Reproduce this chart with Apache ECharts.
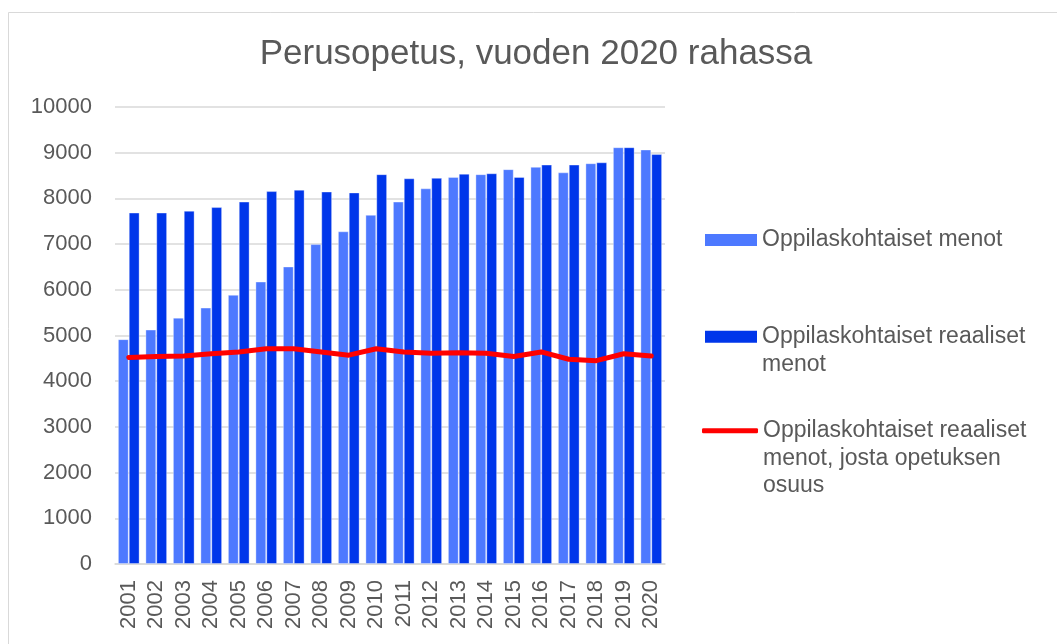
<!DOCTYPE html>
<html>
<head>
<meta charset="utf-8">
<script src="https://cdn.jsdelivr.net/npm/echarts@6/dist/echarts.min.js"></script>
<style>
html,body{margin:0;padding:0;background:#fff;}
#chart{width:1057px;height:644px;}
</style>
</head>
<body>
<div id="chart"></div>
<script>
const years = ['2001','2002','2003','2004','2005','2006','2007','2008','2009','2010','2011','2012','2013','2014','2015','2016','2017','2018','2019','2020'];
const menot = [4920,5130,5390,5610,5890,6180,6510,7000,7280,7640,7930,8220,8470,8530,8640,8690,8570,8770,9120,9070];
const reaalisetMenot = [7690,7690,7730,7810,7930,8160,8190,8150,8130,8530,8440,8450,8540,8550,8470,8740,8740,8790,9120,8970];
const opetuksenOsuus = [4520,4540,4550,4600,4640,4710,4710,4640,4570,4710,4640,4610,4620,4610,4540,4640,4480,4450,4600,4550];
const yTicks = [0,1000,2000,3000,4000,5000,6000,7000,8000,9000,10000];

const names = ['Oppilaskohtaiset menot','Oppilaskohtaiset reaaliset menot','Oppilaskohtaiset reaaliset menot, josta opetuksen osuus'];
const legendLabels = ['Oppilaskohtaiset menot','Oppilaskohtaiset reaaliset\nmenot','Oppilaskohtaiset reaaliset\nmenot, josta opetuksen\nosuus'];

const FONT = "'Liberation Sans', Arial, sans-serif";
const TXT = '#595959';
const LH = 27.5;

function legendFor(i, iconCenter, icon, w, h, left) {
  const n = legendLabels[i].split('\n').length;
  const block = (2 * n - 1) * LH;
  // pad with empty lines above so that the first real line sits at the icon's centre
  const txt = '\n'.repeat(n - 1) + legendLabels[i];
  return {
    data: [{name: names[i], icon: icon}],
    orient: 'vertical',
    left: left,
    top: iconCenter - block / 2,
    padding: 0,
    itemWidth: w,
    itemHeight: h,
    itemGap: 0,
    selectedMode: false,
    formatter: function(){ return txt; },
    itemStyle: {borderWidth: 0},
    textStyle: {fontFamily: FONT, fontSize: 23, color: TXT, lineHeight: LH}
  };
}

const chart = echarts.init(document.getElementById('chart'));
chart.setOption({
  backgroundColor: '#ffffff',
  animation: false,
  graphic: [{
    type: 'rect', left: 6, top: 10, silent: true,
    shape: {width: 1100, height: 700},
    style: {fill: 'none', stroke: '#d9d9d9', lineWidth: 1}
  }],
  title: {
    text: 'Perusopetus, vuoden 2020 rahassa',
    left: 536, top: 37, textAlign: 'center', padding: 0,
    textStyle: {fontFamily: FONT, fontSize: 35, fontWeight: 'normal', color: TXT}
  },
  legend: [
    legendFor(0, 240, 'rect', 52, 12, 705),
    legendFor(1, 336.7, 'rect', 52, 12, 705),
    legendFor(2, 430.7, 'roundRect', 56, 5, 702)
  ],
  grid: {left: 115, right: 392, top: 107, bottom: 80, containLabel: false},
  xAxis: {
    type: 'category',
    data: years,
    axisTick: {show: false},
    axisLine: {lineStyle: {color: '#d9d9d9', width: 1.5}},
    axisLabel: {rotate: 90, margin: 16, fontFamily: FONT, fontSize: 22, color: TXT, interval: 0}
  },
  yAxis: {
    type: 'value',
    min: yTicks[0], max: yTicks[yTicks.length - 1], interval: 1000,
    axisLine: {show: false},
    axisTick: {show: false},
    splitLine: {lineStyle: {color: '#d9d9d9', width: 1.5}},
    axisLabel: {margin: 23, fontFamily: FONT, fontSize: 22, color: TXT, formatter: function(v){ return String(v); }}
  },
  series: [
    {
      name: names[0], type: 'bar', data: menot,
      barGap: '0%', barCategoryGap: '21%',
      itemStyle: {color: '#4d79ff', borderColor: 'rgba(255,255,255,0.35)', borderWidth: 1}
    },
    {
      name: names[1], type: 'bar', data: reaalisetMenot,
      barGap: '0%', barCategoryGap: '21%',
      itemStyle: {color: '#0036ea', borderColor: 'rgba(255,255,255,0.35)', borderWidth: 1}
    },
    {
      name: names[2], type: 'line', data: opetuksenOsuus,
      showSymbol: false, symbol: 'none',
      itemStyle: {color: '#ff0000'},
      lineStyle: {color: '#ff0000', width: 5, cap: 'round', join: 'round'},
      z: 5
    }
  ]
});
</script>
</body>
</html>
